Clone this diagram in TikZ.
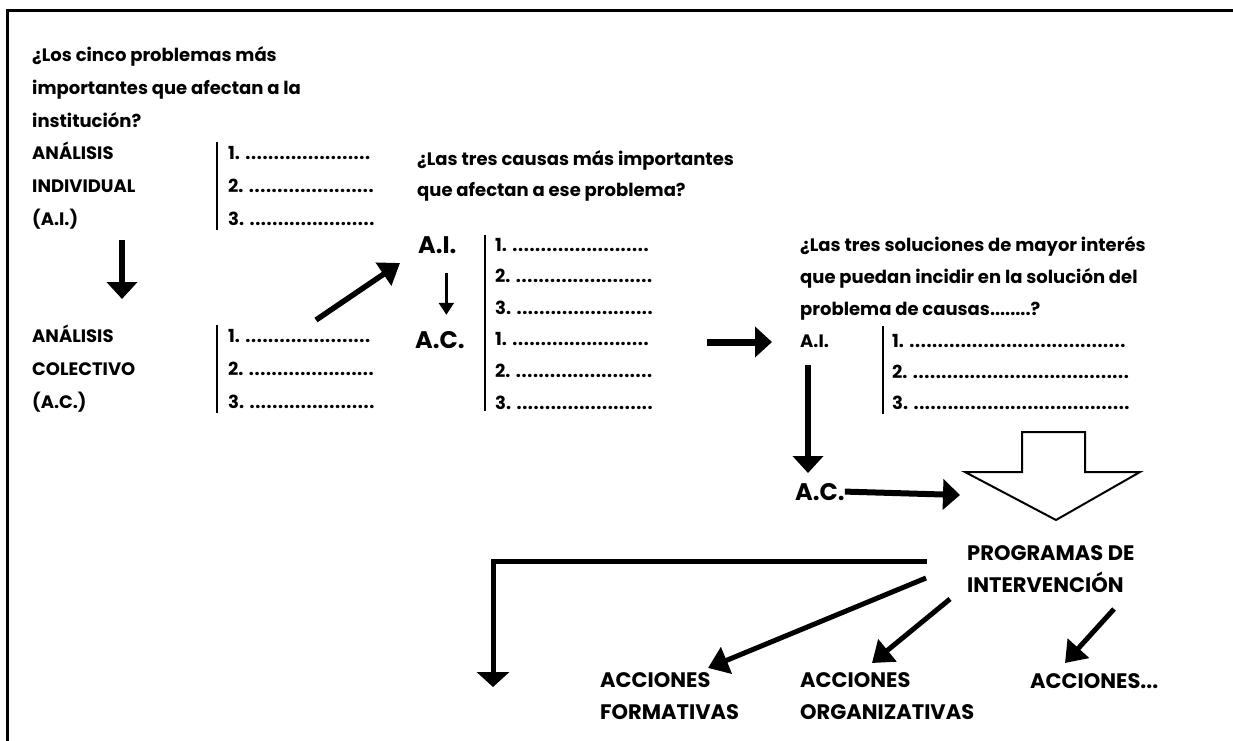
\documentclass[tikz,border=0pt]{standalone}
\usepackage{fontspec}
\setmainfont{Poppins}
\usetikzlibrary{positioning}
\usetikzlibrary{arrows.meta}
\newcommand\puntos[1]{\makebox[#1][l]{\leaders\hbox to 5.7pt{\hss.\hss}\hfill}}

\begin{document}
\begin{tikzpicture}
	[x=1pt,y=-1pt,
	 every node/.style={inner sep=0pt,anchor=base west,align=left,
	   font=\bfseries\fontsize{18}{32.6}\selectfont},
	 big/.style={font=\bfseries\fontsize{24}{30}\selectfont},
	 lower/.style={font=\bfseries\fontsize{21}{31.5}\selectfont},
	 thickarrow/.style={line width=6pt,-{Triangle[width=30pt,length=17pt]}},
	 thinarrow/.style={line width=2.5pt,-{Triangle[width=15pt,length=12pt]}},
	 bar/.style={line width=2.2pt}]
	\useasboundingbox (0,0) rectangle (1233,740);
	\begin{scope}
	  \clip (0,0) rectangle (1233,740);
	  \draw[line width=3pt] (7,760) -- (7,10) -- (1260,10);
	\end{scope}

	% problemas (base = last line)
	\node (q1) at (32,127) {¿Los cinco problemas más\\importantes que afectan a la\\institución?};
	\node (ai1) at (32,225) {ANÁLISIS\\INDIVIDUAL\\(A.I.)};
	\node (l1) at (228,225) {1. \puntos{126pt}\\2. \puntos{126pt}\\3. \puntos{126pt}};
	\draw[bar] ([shift={(-11,-4)}]l1.north west) -- ([shift={(-11,5)}]l1.south west);
	\node (ac1) at (32,408) {ANÁLISIS\\COLECTIVO\\(A.C.)};
	\node (m1) at (228,408) {1. \puntos{126pt}\\2. \puntos{126pt}\\3. \puntos{126pt}};
	\draw[bar] ([shift={(-11,-4)}]m1.north west) -- ([shift={(-11,5)}]m1.south west);
	\coordinate (d1a) at (122,240);
	\coordinate (d1b) at (122,299);
	\draw[thickarrow] (d1a) -- (d1b);
	\coordinate (g1a) at (316,320);
	\coordinate (g1b) at (400,263);
	\draw[thickarrow,line width=5.5pt,-{Triangle[width=27pt,length=20pt]}] (g1a) -- (g1b);

	% causas
	\node[font=\bfseries\fontsize{18}{31}\selectfont] (q2) at (417,196)
	  {¿Las tres causas más importantes\\que afectan a ese problema?};
	\node[big] (ai2) at (418,253) {A.I.};
	\node[big] (ac2) at (415,348) {A.C.};
	\draw[thinarrow,shorten <=20pt,shorten >=16pt]
	  ([xshift=9pt]ai2.south) -- ([xshift=9pt]ai2.south |- ac2.north);
	\node[font=\bfseries\fontsize{18}{31.6}\selectfont] (l2) at (495,409)
	  {1. \puntos{142pt}\\2. \puntos{142pt}\\3. \puntos{142pt}\\1. \puntos{142pt}\\2. \puntos{142pt}\\3. \puntos{142pt}};
	\draw[bar] ([shift={(-10,-3)}]l2.north west) -- ([shift={(-10,2)}]l2.south west);
	\coordinate (r1a) at (707,342);
	\coordinate (r1b) at (772,342);
	\draw[thickarrow,line width=7pt] (r1a) -- (r1b);

	% soluciones
	\node[font=\bfseries\fontsize{18}{32}\selectfont] (q3) at (800,315)
	  {¿Las tres soluciones de mayor interés\\que puedan incidir en la solución del\\problema de causas........?};
	\node (ai3) at (800,347) {A.I.};
	\node[font=\bfseries\fontsize{18}{31}\selectfont] (l3) at (892,409)
	  {1. \puntos{217pt}\\2. \puntos{217pt}\\3. \puntos{217pt}};
	\draw[bar] ([shift={(-9,-8)}]l3.north west) -- ([shift={(-9,5)}]l3.south west);
	\coordinate (d3a) at (808,365);
	\draw[thickarrow] (d3a) -- (808,473);
	\node[big] (ac3) at (795,500) {A.C.};
	\draw[thickarrow] (ac3.east) -- (960,495);
	\draw[line width=2pt,line join=miter] (1022,432) -- (1085,432) -- (1085,472) -- (1140,472)
	  -- (1056,520) -- (965,472) -- (1022,472) -- cycle;

	% programas
	\node[lower] (prog) at (967,592) {PROGRAMAS DE\\INTERVENCIÓN};
	\node[lower] (form) at (600,719) {ACCIONES\\FORMATIVAS};
	\node[lower] (org) at (800,719) {ACCIONES\\ORGANIZATIVAS};
	\node[lower] (otras) at (1030,688) {ACCIONES...};
	\coordinate (p1) at (927,561);
	\draw[thickarrow,line width=5pt,-{Triangle[width=32pt,length=15pt]}] (p1) -| (493,687);
	\coordinate (p2) at (926,578);
	\draw[thickarrow,line width=5pt,-{Triangle[width=28pt,length=20pt]}] (p2) -- (708,668);
	\coordinate (p3) at (950,599);
	\draw[thickarrow,line width=5pt,-{Triangle[width=28pt,length=20pt]}] (p3) -- (872,663);
	\coordinate (p4) at (1114,609);
	\draw[thickarrow,line width=5pt,-{Triangle[width=28pt,length=20pt]}] (p4) -- (1065,663);
\end{tikzpicture}
\end{document}
